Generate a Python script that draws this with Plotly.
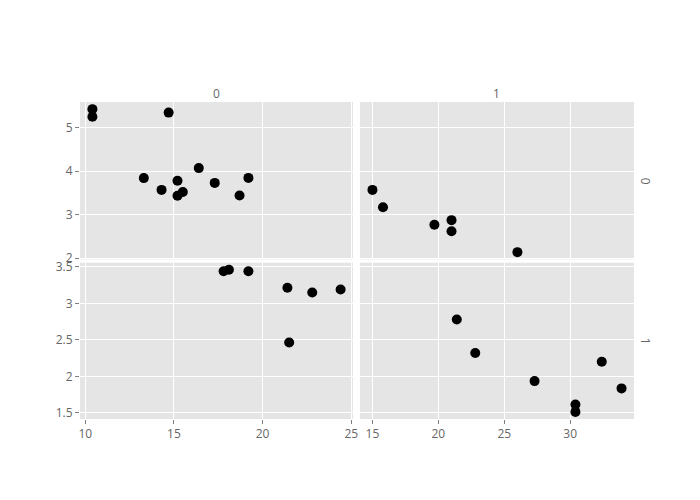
import plotly.graph_objects as go

# mtcars: mpg, wt, vs, am
mpg = [21.0, 21.0, 22.8, 21.4, 18.7, 18.1, 14.3, 24.4, 22.8, 19.2, 17.8, 16.4,
       17.3, 15.2, 10.4, 10.4, 14.7, 32.4, 30.4, 33.9, 21.5, 15.5, 15.2, 13.3,
       19.2, 27.3, 26.0, 30.4, 15.8, 19.7, 15.0, 21.4]
wt = [2.620, 2.875, 2.320, 3.215, 3.440, 3.460, 3.570, 3.190, 3.150, 3.440,
      3.440, 4.070, 3.730, 3.780, 5.250, 5.424, 5.345, 2.200, 1.615, 1.835,
      2.465, 3.520, 3.435, 3.840, 3.845, 1.935, 2.140, 1.513, 3.170, 2.770,
      3.570, 2.780]
vs = [0, 0, 1, 1, 0, 1, 0, 1, 1, 1, 1, 0, 0, 0, 0, 0, 0, 1, 1, 1, 1, 0, 0, 0,
      0, 1, 0, 1, 0, 0, 0, 1]
am = [1, 1, 1, 0, 0, 0, 0, 0, 0, 0, 0, 0, 0, 0, 0, 0, 0, 1, 1, 1, 0, 0, 0, 0,
      0, 1, 1, 1, 1, 1, 1, 1]

col_labels = ["0", "1"]
row_labels = ["0", "1"]


def expand(vals, mult=0.05):
    lo, hi = min(vals), max(vals)
    pad = (hi - lo) * mult
    return [lo - pad, hi + pad]


x_dom = [[0, 0.4928], [0.5054, 1]]
y_dom = [[0.5038, 1], [0, 0.4931]]

fig = go.Figure()
axis_style = dict(
    showgrid=True, gridcolor="white", gridwidth=1, zeroline=False,
    showline=False, ticklen=4, tickcolor="#7f7f7f",
    tickfont=dict(family="Open Sans", size=12, color="#666666"),
)

for r in range(2):
    for c in range(2):
        idx = r * 2 + c + 1
        xs = [m for m, v, a in zip(mpg, vs, am) if v == r and a == c]
        ys = [w for w, v, a in zip(wt, vs, am) if v == r and a == c]
        xname = "x" if idx == 1 else f"x{idx}"
        yname = "y" if idx == 1 else f"y{idx}"
        fig.add_trace(go.Scatter(
            x=xs, y=ys, mode="markers", xaxis=xname, yaxis=yname,
            marker=dict(color="black", size=10), showlegend=False,
        ))
        col_mpg = [m for m, a in zip(mpg, am) if a == c]
        row_wt = [w for w, v in zip(wt, vs) if v == r]
        xkey = "xaxis" if idx == 1 else f"xaxis{idx}"
        ykey = "yaxis" if idx == 1 else f"yaxis{idx}"
        fig.update_layout(**{
            xkey: dict(axis_style, domain=x_dom[c], anchor=yname,
                       range=expand(col_mpg), dtick=5,
                       showticklabels=(r == 1), ticks="outside" if r == 1 else ""),
            ykey: dict(axis_style, domain=y_dom[r], anchor=xname,
                       range=expand(row_wt), dtick=1 if r == 0 else 0.5,
                       showticklabels=(c == 0), ticks="outside" if c == 0 else ""),
        })

label_font = dict(family="Open Sans", size=12, color="#666666")
annotations = []
for c, lab in enumerate(col_labels):
    annotations.append(dict(
        text=lab, xref="paper", yref="paper", x=sum(x_dom[c]) / 2, y=1,
        xanchor="center", yanchor="bottom", yshift=-2, showarrow=False,
        font=label_font,
    ))
for r, lab in enumerate(row_labels):
    annotations.append(dict(
        text=lab, xref="paper", yref="paper", x=1, y=sum(y_dom[r]) / 2,
        xanchor="center", yanchor="middle", xshift=11, showarrow=False,
        textangle=90, font=label_font,
    ))

fig.update_layout(
    width=692, height=492,
    margin=dict(l=72, r=66, t=94, b=81),
    paper_bgcolor="white", plot_bgcolor="#e5e5e5",
    annotations=annotations,
)

fig.write_html("out.html")
